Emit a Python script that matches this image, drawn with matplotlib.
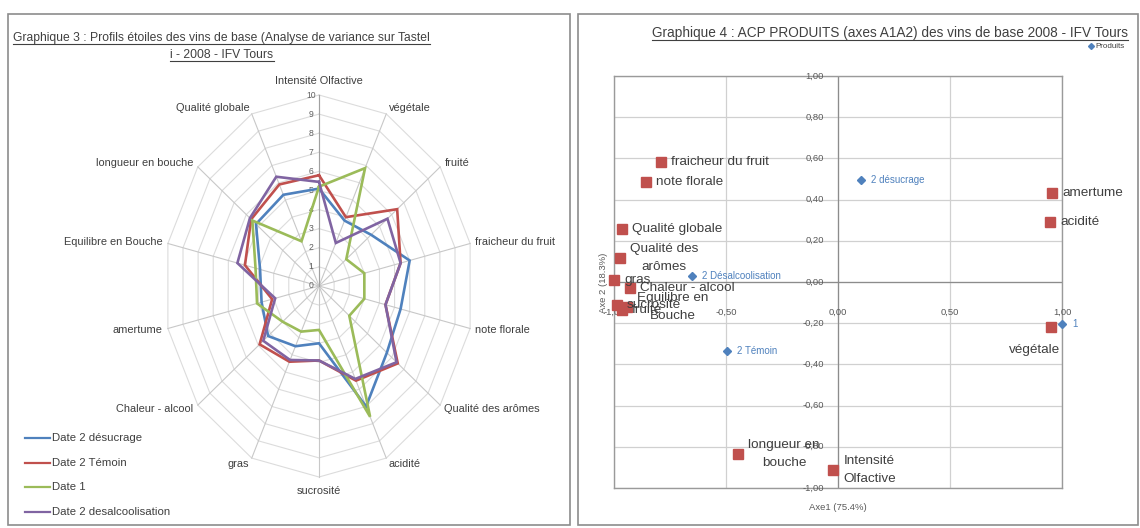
import numpy as np
import matplotlib
matplotlib.use("Agg")
import matplotlib.pyplot as plt
from matplotlib.patches import Rectangle
from matplotlib.lines import Line2D

# ---------------- data : radar (Graphique 3) ----------------
radar_axes = ["Intensité Olfactive", "végétale", "fruité", "fraicheur du fruit",
              "note florale", "Qualité des arômes", "acidité", "sucrosité", "gras",
              "Chaleur - alcool", "amertume", "Equilibre en Bouche",
              "longueur en bouche", "Qualité globale"]
radar_series = ["Date 2 désucrage", "Date 2 Témoin", "Date 1", "Date 2 desalcoolisation"]
desucrage = [5.1, 3.8, 4.3, 6.0, 5.4, 5.6, 7.0, 3.0, 3.5, 4.2, 3.8, 3.9, 5.2, 5.3]
temoin = [5.8, 4.0, 6.45, 5.4, 4.4, 6.5, 5.5, 3.9, 4.4, 4.9, 3.1, 4.9, 5.6, 5.9]
date1 = [5.2, 6.85, 2.25, 3.0, 3.0, 2.5, 7.6, 2.3, 2.65, 3.0, 4.1, 4.2, 5.5, 2.6]
desalcoolisation = [5.45, 2.5, 5.65, 5.4, 4.4, 6.4, 5.4, 3.9, 4.3, 4.6, 2.9, 5.4, 5.7, 6.35]
radar_ticks = list(range(0, 11))

# ---------------- data : ACP (Graphique 4) ----------------
var_labels = ["fraicheur du fruit", "note florale", "Qualité globale", "Qualité des\narômes",
              "gras", "Chaleur - alcool", "Equilibre en\nBouche", "sucrosité", "fruité",
              "amertume", "acidité", "végétale", "longueur en\nbouche", "Intensité\nOlfactive"]
var_x = [-0.79, -0.857, -0.964, -0.973, -1.0, -0.93, -0.94, -0.987, -0.965,
         0.955, 0.946, 0.95, -0.446, -0.022]
var_y = [0.583, 0.485, 0.257, 0.117, 0.01, -0.03, -0.12, -0.11, -0.135,
         0.432, 0.291, -0.218, -0.835, -0.913]
prod_labels = ["2 désucrage", "2 Désalcoolisation", "2 Témoin", "1"]
prod_x = [0.103, -0.652, -0.496, 1.0]
prod_y = [0.495, 0.03, -0.335, -0.204]
x_ticks = [-1.0, -0.5, 0.0, 0.5, 1.0]
y_ticks = [-1.0, -0.8, -0.6, -0.4, -0.2, 0.0, 0.2, 0.4, 0.6, 0.8, 1.0]

# ---------------- style ----------------
W, H = 1140, 528
FONT = ["Liberation Sans", "DejaVu Sans"]
C_BLUE, C_RED, C_GREEN, C_PURPLE = "#4F81BD", "#C0504D", "#9BBB59", "#8064A2"
TXT = "#3F3F3F"

fig = plt.figure(figsize=(W / 100, H / 100), dpi=100)
fig.patch.set_facecolor("white")


def fx(px):
    return px / W


def fy(py):
    return 1 - py / H


# panel frames
fig.add_artist(Rectangle((fx(8), fy(525)), fx(562), 511 / H, transform=fig.transFigure,
                         fill=False, ec="#8C8C8C", lw=1.2))
fig.add_artist(Rectangle((fx(578), fy(525)), fx(560), 511 / H, transform=fig.transFigure,
                         fill=False, ec="#8C8C8C", lw=1.2))

# ---------------- radar ----------------
ux, uy = 15.5, 19.1  # pixels per unit (picture is horizontally compressed)
cx, cy = 319, 286
ax = fig.add_axes([fx(cx - 12 * ux), fy(cy + 12 * uy), fx(24 * ux), 24 * uy / H])
ax.set_xlim(-12, 12)
ax.set_ylim(-12, 12)
ax.axis("off")

n = len(radar_axes)
theta = np.arange(n) * 2 * np.pi / n
sx, sy = np.sin(theta), np.cos(theta)
closed = np.r_[np.arange(n), 0]

for r in radar_ticks[1:]:
    ax.plot(r * sx[closed], r * sy[closed], color="#DCDCDC", lw=0.8, zorder=1)
for k in range(n):
    ax.plot([0, 10 * sx[k]], [0, 10 * sy[k]], color="#C8C8C8", lw=0.8, zorder=1)
ax.plot([0, 0], [0, 10], color="#A0A0A0", lw=0.8, zorder=1)
for r in radar_ticks:
    ax.text(-0.5, r, str(r), ha="center", va="center", fontsize=6.2, color="#606060",
            family=FONT, zorder=2)

for vals, col in zip([desucrage, temoin, date1, desalcoolisation],
                     [C_BLUE, C_RED, C_GREEN, C_PURPLE]):
    v = np.asarray(vals)[closed]
    ax.plot(v * sx[closed], v * sy[closed], color=col, lw=1.9, zorder=3,
            solid_joinstyle="miter")

RFS = 7.9
for k, lab in enumerate(radar_axes):
    if abs(sx[k]) < 0.1:
        if sy[k] > 0:
            ax.text(0, 10.45, lab, ha="center", va="bottom", fontsize=RFS, color=TXT, family=FONT)
        else:
            ax.text(0, -10.45, lab, ha="center", va="top", fontsize=RFS, color=TXT, family=FONT)
    else:
        ax.text(10.35 * sx[k], 10.35 * sy[k], lab, ha="left" if sx[k] > 0 else "right",
                va="center", fontsize=RFS, color=TXT, family=FONT)

# radar legend
for i, (name, col) in enumerate(zip(radar_series, [C_BLUE, C_RED, C_GREEN, C_PURPLE])):
    yy = 438 + i * 24.7
    fig.add_artist(Line2D([fx(25), fx(50)], [fy(yy), fy(yy)], color=col, lw=1.6,
                          transform=fig.transFigure))
    fig.text(fx(52), fy(yy), name, ha="left", va="center", fontsize=8.2, color=TXT, family=FONT)

# ---------------- ACP scatter ----------------
bx = fig.add_axes([fx(614), fy(488), fx(448), 412 / H])
bx.set_xlim(-1, 1)
bx.set_ylim(-1, 1)
bx.set_xticks(x_ticks)
bx.set_yticks(y_ticks)
bx.tick_params(length=0, labelbottom=False, labelleft=False)
bx.grid(True, color="#D0D0D0", lw=0.9)
for s in bx.spines.values():
    s.set_color("#9A9A9A")
    s.set_linewidth(1.0)
bx.axhline(0, color="#8C8C8C", lw=0.9, zorder=1)
bx.axvline(0, color="#8C8C8C", lw=0.9, zorder=1)
bx.set_axisbelow(True)

for xt in x_ticks:
    bx.annotate(f"{xt:.2f}".replace(".", ","), (xt, 0), xytext=(0, -30),
                textcoords="offset pixels", ha="center", va="center", fontsize=6.8,
                color="#595959", family=FONT, annotation_clip=False)
for yt in y_ticks:
    bx.annotate(f"{yt:.2f}".replace(".", ","), (0, yt), xytext=(-14, 0),
                textcoords="offset pixels", ha="right", va="center", fontsize=6.8,
                color="#595959", family=FONT, annotation_clip=False)

bx.plot(var_x, var_y, ls="none", marker="s", ms=7, color=C_RED, mec=C_RED, zorder=4,
        clip_on=False)
bx.plot(prod_x, prod_y, ls="none", marker="D", ms=4.2, color=C_BLUE, mec=C_BLUE, zorder=4,
        clip_on=False)

for lab, x, y in zip(var_labels, var_x, var_y):
    if lab == "végétale":
        off, ha = (-16, -23), "center"
    else:
        off, ha = (10, 0), "left"
    bx.annotate(lab, (x, y), xytext=off, textcoords="offset pixels", ha=ha, va="center",
                multialignment="center", linespacing=1.65, fontsize=9.7, color=TXT,
                family=FONT, annotation_clip=False, zorder=5)
for lab, x, y in zip(prod_labels, prod_x, prod_y):
    bx.annotate(lab, (x, y), xytext=(10, 0), textcoords="offset pixels", ha="left",
                va="center", fontsize=7, color=C_BLUE, family=FONT,
                annotation_clip=False, zorder=5)

fig.text(fx(604), fy(283), "Axe 2 (18.3%)", rotation=90, ha="center", va="center",
         fontsize=6.8, color="#595959", family=FONT)
fig.text(fx(838), fy(508), "Axe1 (75.4%)", ha="center", va="center",
         fontsize=6.8, color="#595959", family=FONT)

# legend of scatter
fig.add_artist(Line2D([fx(1091)], [fy(46)], marker="D", ms=3, color=C_BLUE, ls="none",
                      transform=fig.transFigure))
fig.text(fx(1095), fy(46), "Produits", ha="left", va="center", fontsize=5.8, color=TXT,
         family=FONT)

# ---------------- titles (underlined) ----------------
titles = [
    (fx(13), fy(38), "Graphique 3 : Profils étoiles des vins de base (Analyse de variance sur Tastel",
     "left", 8.7),
    (fx(222), fy(55), "i - 2008 - IFV Tours", "center", 8.7),
    (fx(890), fy(33), "Graphique 4 : ACP PRODUITS (axes A1A2) des vins de base 2008 - IFV Tours",
     "center", 9.8),
]
tobjs = []
for x, y, s, ha, fs in titles:
    tobjs.append(fig.text(x, y, s, ha=ha, va="center", fontsize=fs, color="#404040",
                          family=FONT))
fig.canvas.draw()
ren = fig.canvas.get_renderer()
for t in tobjs:
    bb = t.get_window_extent(ren)
    yline = (bb.y0 + 0.5) / H
    fig.add_artist(Line2D([bb.x0 / W, bb.x1 / W], [yline, yline], color="#404040", lw=0.8,
                          transform=fig.transFigure))

fig.savefig("out.png", dpi=100, facecolor="white")
